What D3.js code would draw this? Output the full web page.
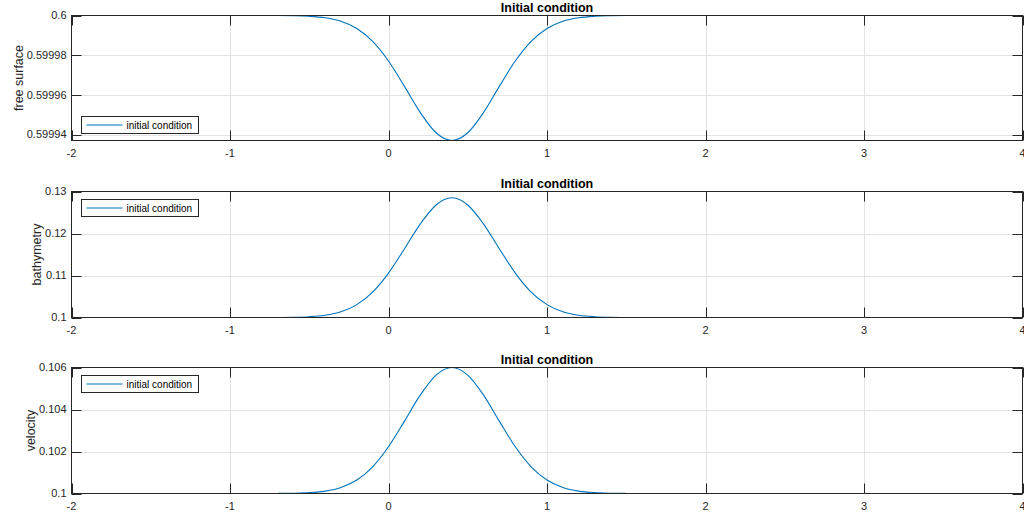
<!DOCTYPE html>
<html>
<head>
<meta charset="utf-8">
<script src="https://cdn.jsdelivr.net/npm/d3@7/dist/d3.min.js"></script>
<style>
  html, body { margin: 0; padding: 0; background: #fff; }
  svg { display: block; font-family: "Liberation Sans", Arial, Helvetica, sans-serif; }
</style>
</head>
<body>
<svg id="chart" width="1024" height="513"></svg>
<script>
// Sample positions along the channel
const xPos = [-2, -1.2, -1.0, -0.8, -0.7, -0.6, -0.5, -0.4, -0.3, -0.2, -0.1, 0, 0.1, 0.2, 0.3,
  0.4, 0.5, 0.6, 0.7, 0.8, 0.9, 1.0, 1.1, 1.2, 1.3, 1.4, 1.5, 1.6, 1.8, 2.0, 4];

// Free surface elevation at each sample
const freeSurface = [0.6, 0.6, 0.6, 0.59999999, 0.59999997, 0.59999988, 0.5999996, 0.59999884,
  0.59999706, 0.59999342, 0.59998694, 0.59997707, 0.59996439, 0.59995115, 0.59994089,
  0.599937, 0.59994089, 0.59995115, 0.59996439, 0.59997707, 0.59998694, 0.59999342,
  0.59999706, 0.59999884, 0.5999996, 0.59999988, 0.59999997, 0.59999999, 0.6, 0.6, 0.6];

// Bed elevation at each sample
const bathymetry = [0.1, 0.1, 0.1, 0.1000038, 0.1000157, 0.1000579, 0.1001878, 0.1005389,
  0.101366, 0.1030581, 0.1060477, 0.1105678, 0.1163134, 0.1222414, 0.1267872,
  0.1285, 0.1267872, 0.1222414, 0.1163134, 0.1105678, 0.1060477, 0.1030581,
  0.101366, 0.1005389, 0.1001878, 0.1000579, 0.1000157, 0.1000038, 0.1, 0.1, 0.1];

// Depth-averaged velocity at each sample
const velocity = [0.1, 0.1, 0.1, 0.1000008, 0.1000033, 0.1000122, 0.1000395, 0.1001135,
  0.1002876, 0.1006438, 0.1012732, 0.1022248, 0.1034344, 0.1046824, 0.1056394,
  0.106, 0.1056394, 0.1046824, 0.1034344, 0.1022248, 0.1012732, 0.1006438,
  0.1002876, 0.1001135, 0.1000395, 0.1000122, 0.1000033, 0.1000008, 0.1, 0.1, 0.1];

// Axis ticks
const xTicks = [-2, -1, 0, 1, 2, 3, 4];
const freeSurfaceTicks = [0.59994, 0.59996, 0.59998, 0.6];
const bathymetryTicks = [0.1, 0.11, 0.12, 0.13];
const velocityTicks = [0.1, 0.102, 0.104, 0.106];

const titleText = "Initial condition";
const legendText = "initial condition";

const panels = [
  { label: "free surface", values: freeSurface, ticks: freeSurfaceTicks, domain: [0.599937, 0.6],
    top: 15.5, bottom: 140.5, legendY: 116.5, fmt: d => String(+d.toFixed(5)) },
  { label: "bathymetry", values: bathymetry, ticks: bathymetryTicks, domain: [0.1, 0.13],
    top: 191.5, bottom: 317.5, legendY: 199.5, fmt: d => String(+d.toFixed(3)) },
  { label: "velocity", values: velocity, ticks: velocityTicks, domain: [0.1, 0.106],
    top: 367.5, bottom: 493.5, legendY: 375.5, fmt: d => String(+d.toFixed(3)) }
];

const left = 71.5, right = 1022.5;
const axisColor = "#262626";
const gridColor = "#e3e3e3";
const lineColor = "#0072bd";
const tickLen = 10;

const svg = d3.select("#chart");
const x = d3.scaleLinear().domain([-2, 4]).range([left, right]);

panels.forEach(p => {
  const y = d3.scaleLinear().domain(p.domain).range([p.bottom, p.top]);
  const g = svg.append("g");

  // grid
  g.append("g").selectAll("line").data(xTicks.slice(1, -1)).join("line")
    .attr("x1", d => Math.round(x(d)) + 0.5).attr("x2", d => Math.round(x(d)) + 0.5)
    .attr("y1", p.top).attr("y2", p.bottom)
    .attr("stroke", gridColor).attr("stroke-width", 1);
  g.append("g").selectAll("line").data(p.ticks.filter(t => t > p.domain[0] && t < p.domain[1])).join("line")
    .attr("x1", left).attr("x2", right)
    .attr("y1", d => Math.round(y(d)) + 0.5).attr("y2", d => Math.round(y(d)) + 0.5)
    .attr("stroke", gridColor).attr("stroke-width", 1);

  // data line
  const line = d3.line()
    .x((d, i) => x(xPos[i]))
    .y(d => y(d))
    .curve(d3.curveMonotoneX);
  g.append("path").datum(p.values)
    .attr("d", line)
    .attr("fill", "none").attr("stroke", lineColor).attr("stroke-width", 1.1);

  // box
  g.append("rect")
    .attr("x", left).attr("y", p.top)
    .attr("width", right - left).attr("height", p.bottom - p.top)
    .attr("fill", "none").attr("stroke", axisColor).attr("stroke-width", 1);

  // x ticks (inward, bottom and top)
  const xt = g.append("g");
  xTicks.forEach(t => {
    const px = Math.round(x(t)) + 0.5;
    xt.append("line").attr("x1", px).attr("x2", px).attr("y1", p.bottom).attr("y2", p.bottom - tickLen)
      .attr("stroke", axisColor);
    xt.append("line").attr("x1", px).attr("x2", px).attr("y1", p.top).attr("y2", p.top + tickLen)
      .attr("stroke", axisColor);
  });
  g.append("g").selectAll("text").data(xTicks).join("text")
    .attr("x", d => x(d)).attr("y", p.bottom + 16)
    .attr("text-anchor", "middle").attr("font-size", 11).attr("fill", axisColor)
    .text(d => d3.format("d")(d).replace("−", "-"));

  // y ticks (inward, left and right)
  const yt = g.append("g");
  p.ticks.forEach(t => {
    const py = Math.round(y(t)) + 0.5;
    yt.append("line").attr("x1", left).attr("x2", left + tickLen).attr("y1", py).attr("y2", py)
      .attr("stroke", axisColor);
    yt.append("line").attr("x1", right).attr("x2", right - tickLen).attr("y1", py).attr("y2", py)
      .attr("stroke", axisColor);
  });
  const yLabels = g.append("g").selectAll("text").data(p.ticks).join("text")
    .attr("x", left - 5).attr("y", d => y(d)).attr("dy", "0.35em")
    .attr("text-anchor", "end").attr("font-size", 11).attr("fill", axisColor)
    .text(p.fmt);

  // y axis title, placed left of the widest tick label
  let minX = left;
  yLabels.each(function () { minX = Math.min(minX, this.getBBox().x); });
  const cy = (p.top + p.bottom) / 2;
  g.append("text")
    .attr("transform", `translate(${minX - 4},${cy}) rotate(-90)`)
    .attr("text-anchor", "middle").attr("font-size", 12.5).attr("fill", axisColor)
    .text(p.label);

  // panel title
  g.append("text")
    .attr("x", (left + right) / 2).attr("y", p.top - 4)
    .attr("text-anchor", "middle").attr("font-size", 12.5).attr("font-weight", "bold")
    .attr("fill", "#000")
    .text(titleText);

  // legend
  const lg = g.append("g").attr("transform", `translate(81.5,${p.legendY})`);
  lg.append("rect").attr("width", 117).attr("height", 17)
    .attr("fill", "#fff").attr("stroke", axisColor).attr("stroke-width", 1);
  lg.append("line").attr("x1", 5).attr("x2", 41).attr("y1", 8.5).attr("y2", 8.5)
    .attr("stroke", lineColor).attr("stroke-width", 1.1);
  lg.append("text").attr("x", 45).attr("y", 8.5).attr("dy", "0.35em")
    .attr("font-size", 10).attr("fill", "#000").text(legendText);
});
</script>
</body>
</html>
